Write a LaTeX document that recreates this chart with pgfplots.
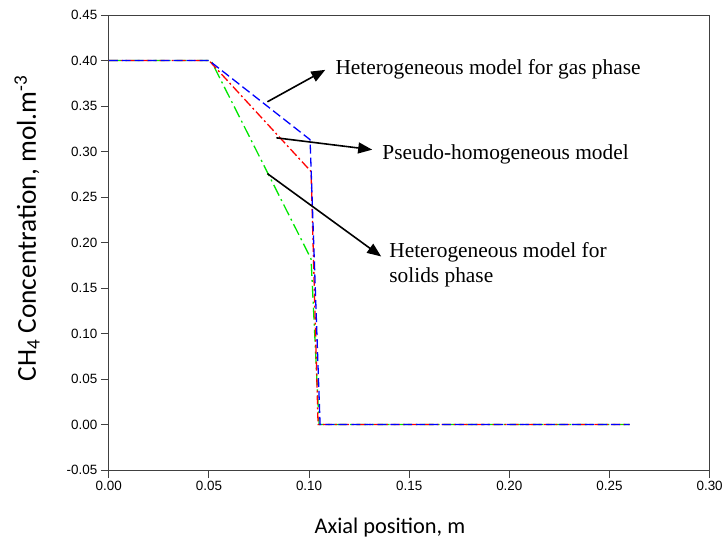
\documentclass[border=0pt]{standalone}
\usepackage{pgfplots}
\pgfplotsset{compat=1.18}
\usepackage{fontspec}
\setmainfont{Liberation Sans}
\newfontfamily\calib{Carlito}
\newfontfamily\serifann{Liberation Serif}
\usetikzlibrary{arrows.meta}

\begin{document}
\begin{tikzpicture}
\begin{axis}[
  scale only axis, width=602bp, height=456bp,
  xmin=0, xmax=0.30, ymin=-0.05, ymax=0.45,
  xtick={0,0.05,...,0.30}, ytick={-0.05,0,...,0.45},
  tick pos=left, tick align=outside, major tick length=8bp,
  axis line style={draw=black!75, line width=0.9bp},
  tick style={draw=black!75, line width=0.9bp},
  ticklabel style={font=\fontsize{13.5}{15}\selectfont},
  /pgf/number format/assume math mode=true,
  /pgf/number format/.cd, fixed, fixed zerofill, precision=2, /pgfplots/.cd,
  xlabel={\calib Axial position, m},
  ylabel={\calib CH\textsubscript{4} Concentration, mol.m\textsuperscript{-3}},
  xlabel style={font=\fontsize{22.5}{26}\selectfont, at={(axis description cs:0.468,-0.140)}, anchor=base},
  ylabel style={font=\fontsize{27.5}{31}\selectfont, at={(axis description cs:-0.136,0.531)}, anchor=center},
  clip=false,
]
% solids phase (green)
\addplot[color={rgb,255:red,0;green,230;blue,0}, line width=1.3bp,
  dash pattern=on 12bp off 4bp on 2bp off 4bp]
  coordinates {(0,0.40) (0.051,0.40) (0.101,0.182) (0.1050,0.0) (0.26,0.0)};
% pseudo-homogeneous (red)
\addplot[color=red, line width=1.3bp,
  dash pattern=on 9bp off 3bp on 2bp off 3bp]
  coordinates {(0,0.40) (0.050,0.40) (0.101,0.278) (0.1045,0.0) (0.26,0.0)};
% gas phase (blue)
\addplot[color=blue, line width=1.3bp, dash pattern=on 9bp off 4bp]
  coordinates {(0,0.40) (0.050,0.40) (0.1005,0.313) (0.1055,0.0) (0.26,0.0)};

\draw[line width=1.6bp, -{Triangle[length=14bp,width=11bp]}]
  (axis cs:0.0792,0.3546) -- (axis cs:0.1081,0.3897);
\node[anchor=base west, inner sep=0pt, font=\serifann\fontsize{21.5}{24}\selectfont] at (axis cs:0.1131,0.3842)
  {Heterogeneous model for gas phase};
\draw[line width=1.6bp, -{Triangle[length=14bp,width=11bp]}]
  (axis cs:0.0837,0.315) -- (axis cs:0.1315,0.302);
\node[anchor=base west, inner sep=0pt, font=\serifann\fontsize{21.5}{24}\selectfont] at (axis cs:0.1365,0.291)
  {Pseudo-homogeneous model};
\draw[line width=1.6bp, -{Triangle[length=14bp,width=11bp]}]
  (axis cs:0.0792,0.2757) -- (axis cs:0.136,0.1847);
\node[anchor=base west, inner sep=0pt, font=\serifann\fontsize{21.5}{24}\selectfont] at (axis cs:0.140,0.1836)
  {Heterogeneous model for};
\node[anchor=base west, inner sep=0pt, font=\serifann\fontsize{21.5}{24}\selectfont] at (axis cs:0.140,0.156)
  {solids phase};
\end{axis}
\path ([shift={(-109bp,-70bp)}]current axis.south west) rectangle ([shift={(15bp,15bp)}]current axis.north east);
\end{tikzpicture}
\end{document}
